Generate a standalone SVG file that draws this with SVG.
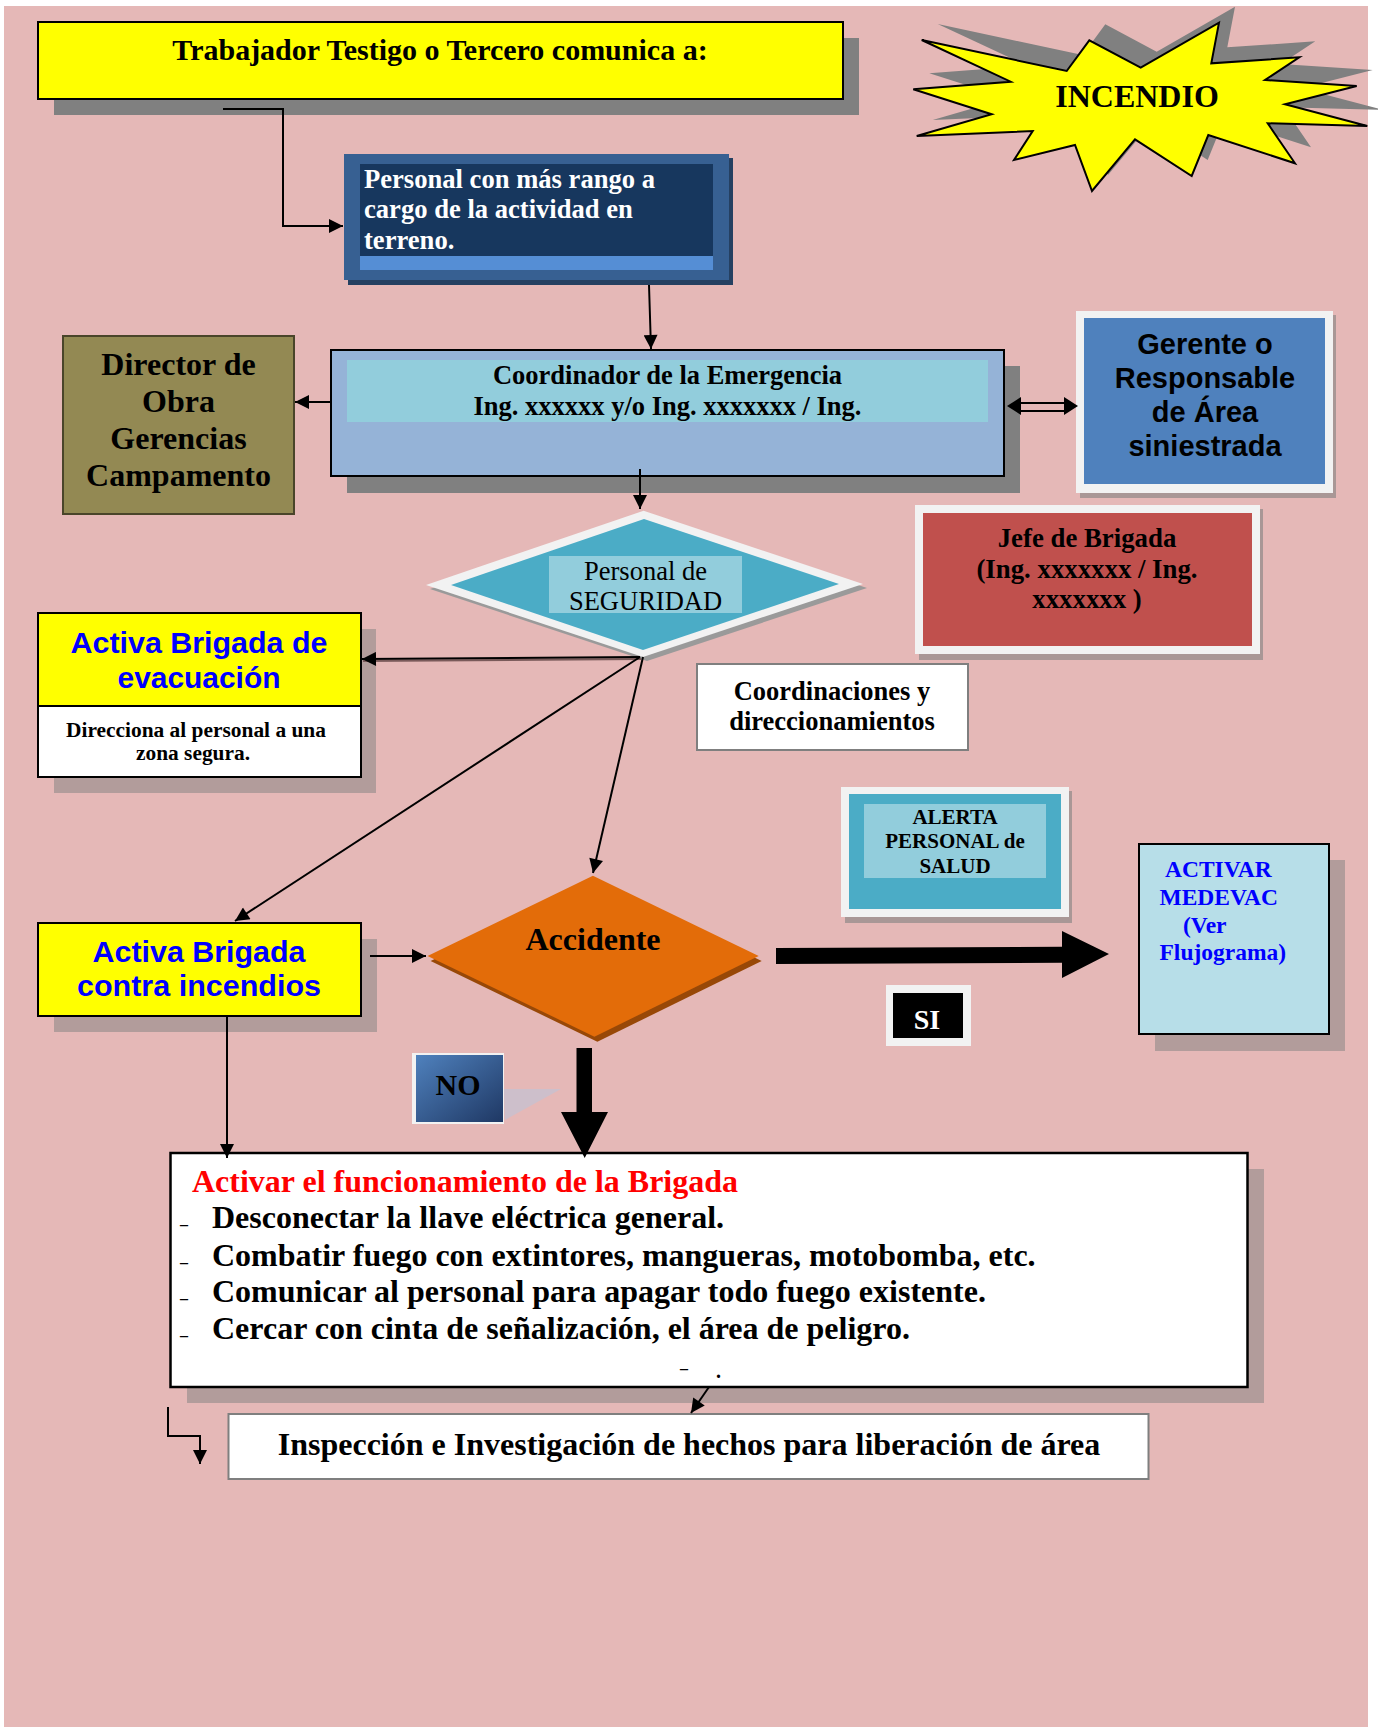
<svg xmlns="http://www.w3.org/2000/svg" width="1378" height="1727" viewBox="0 0 1378 1727">
<defs>
<style>
.serif{font-family:"Liberation Serif","Times New Roman",serif;font-weight:bold}
.sans{font-family:"Liberation Sans",Arial,sans-serif;font-weight:bold}
.blue{fill:#0000FF}
.c{text-anchor:middle}
.ln{fill:none;stroke:#000;stroke-width:2}
.sh{fill:#808080}
.shs{fill:#808080;opacity:.5}
</style>
<marker id="ah" viewBox="0 0 10 10" refX="10" refY="5" markerWidth="15" markerHeight="14" markerUnits="userSpaceOnUse" orient="auto"><path d="M0,0 L10,5 L0,10 z" fill="#000"/></marker>
<linearGradient id="nog" x1="0" y1="0" x2="1" y2="1"><stop offset="0" stop-color="#4F81BD"/><stop offset="1" stop-color="#1F3864"/></linearGradient>
</defs>
<rect x="4" y="6" width="1364" height="1721" fill="#E5B8B7"/>

<g id="titulo">
<rect x="54" y="38" width="805" height="77" class="sh"/>
<rect x="38" y="22" width="805" height="77" fill="#FFFF00" stroke="#000" stroke-width="2"/>
<text x="440" y="60" class="serif c" font-size="30">Trabajador Testigo o Tercero comunica a:</text>
</g>

<g id="incendio">
<polygon transform="translate(16,-16)" class="sh" points="921.7,40 1066.7,71 1089.3,40.3 1140.7,67.7 1219,22.7 1211.3,63.3 1299.3,57.3 1265,80 1356.7,86 1285,104.3 1367.3,126 1267.7,123.3 1295,163.3 1208.3,135 1191.7,176 1135,139.3 1092,191 1075,145 1014,160 1032.7,131 916.7,136 991.7,114.3 913.3,89.3 1010.7,81.7"/>
<polygon fill="#FFFF00" stroke="#000" stroke-width="2" points="921.7,40 1066.7,71 1089.3,40.3 1140.7,67.7 1219,22.7 1211.3,63.3 1299.3,57.3 1265,80 1356.7,86 1285,104.3 1367.3,126 1267.7,123.3 1295,163.3 1208.3,135 1191.7,176 1135,139.3 1092,191 1075,145 1014,160 1032.7,131 916.7,136 991.7,114.3 913.3,89.3 1010.7,81.7"/>
<text x="1137" y="107" class="serif c" font-size="32">INCENDIO</text>
</g>

<g id="personal-rango">
<rect x="348" y="158" width="385" height="127" fill="#254061"/>
<rect x="344" y="154" width="385" height="126" fill="#376092"/>
<rect x="360" y="164" width="353" height="92" fill="#17375E"/>
<rect x="360" y="256" width="353" height="14" fill="#558ED5"/>
<text class="serif" font-size="26.6" fill="#FFFFFF"><tspan x="364" y="188">Personal con más rango a</tspan><tspan x="364" y="218">cargo de la actividad en</tspan><tspan x="364" y="249">terreno.</tspan></text>
</g>

<g id="director">
<rect x="63" y="336" width="231" height="178" fill="#938953" stroke="#4A452A" stroke-width="2"/>
<text class="serif c" font-size="32"><tspan x="178.5" y="375">Director de</tspan><tspan x="178.5" y="412">Obra</tspan><tspan x="178.5" y="449">Gerencias</tspan><tspan x="178.5" y="486">Campamento</tspan></text>
</g>

<g id="coordinador">
<rect x="347" y="366" width="673" height="127" class="sh"/>
<rect x="331" y="350" width="673" height="126" fill="#95B3D7" stroke="#000" stroke-width="2"/>
<rect x="347" y="360" width="641" height="62" fill="#92CDDC"/>
<text class="serif c" font-size="26.5"><tspan x="667.5" y="384">Coordinador de la Emergencia</tspan><tspan x="667.5" y="415">Ing. xxxxxx y/o Ing. xxxxxxx / Ing.</tspan></text>
</g>

<g id="gerente">
<rect x="1080" y="315" width="256" height="183" class="sh" opacity=".6"/>
<rect x="1076" y="311" width="257" height="182" fill="#F2F2F2"/>
<rect x="1084" y="318" width="241" height="166" fill="#4F81BD"/>
<text class="sans c" font-size="29"><tspan x="1205" y="354">Gerente o</tspan><tspan x="1205" y="388">Responsable</tspan><tspan x="1205" y="422">de Área</tspan><tspan x="1205" y="456">siniestrada</tspan></text>
</g>

<g id="jefe-brigada">
<rect x="919" y="509" width="344" height="151" class="sh" opacity=".6"/>
<rect x="915" y="505" width="345" height="149" fill="#F2F2F2"/>
<rect x="923" y="513" width="329" height="133" fill="#C0504D"/>
<text class="serif c" font-size="26.8"><tspan x="1087" y="547">Jefe de Brigada</tspan><tspan x="1087" y="578">(Ing. xxxxxxx / Ing.</tspan><tspan x="1087" y="608">xxxxxxx )</tspan></text>
</g>

<g id="seguridad">
<polygon transform="translate(4,4)" fill="#9A9A9A" points="643.6,510.7 863,584 643,657 426,585"/>
<polygon fill="#F2F2F2" points="643.6,510.7 863,584 643,657 426,585"/>
<polygon fill="#4BACC6" points="644,519 839,584 643,650 451,585"/>
<rect x="549" y="556" width="193" height="57" fill="#92CDDC"/>
<text font-family="Liberation Serif, Times New Roman, serif" font-size="26.5" class="c"><tspan x="645.5" y="580">Personal de</tspan><tspan x="645.5" y="610">SEGURIDAD</tspan></text>
</g>

<g id="evacuacion">
<rect x="54" y="629" width="322" height="164" class="shs"/>
<rect x="38" y="613" width="323" height="93" fill="#FFFF00" stroke="#000" stroke-width="2"/>
<rect x="38" y="706" width="323" height="71" fill="#FFFFFF" stroke="#000" stroke-width="2"/>
<text class="sans c blue" font-size="29"><tspan x="199" y="653" textLength="257" lengthAdjust="spacingAndGlyphs">Activa Brigada de</tspan><tspan x="199" y="688" textLength="163" lengthAdjust="spacingAndGlyphs">evacuación</tspan></text>
<text class="serif c" font-size="21.4"><tspan x="196" y="737">Direcciona al personal a una</tspan><tspan x="193" y="760">zona segura.</tspan></text>
</g>

<g id="coordinaciones">
<rect x="697" y="664" width="271" height="86" fill="#FFFFFF" stroke="#7F7F7F" stroke-width="2"/>
<text class="serif c" font-size="26.5"><tspan x="832" y="700">Coordinaciones y</tspan><tspan x="832" y="730">direccionamientos</tspan></text>
</g>

<g id="alerta">
<rect x="845" y="791" width="227" height="132" class="sh" opacity=".6"/>
<rect x="841" y="787" width="228" height="130" fill="#F2F2F2"/>
<rect x="849" y="794" width="212" height="115" fill="#4BACC6"/>
<rect x="864" y="804" width="182" height="74" fill="#92CDDC"/>
<text class="serif c" font-size="21"><tspan x="955" y="824">ALERTA</tspan><tspan x="955" y="848">PERSONAL de</tspan><tspan x="955" y="873">SALUD</tspan></text>
</g>

<g id="medevac">
<rect x="1155" y="860" width="190" height="191" class="shs"/>
<rect x="1139" y="844" width="190" height="190" fill="#B7DEE8" stroke="#000" stroke-width="2"/>
<text class="serif blue" font-size="23.5"><tspan x="1165" y="877">ACTIVAR</tspan><tspan x="1159.5" y="905">MEDEVAC</tspan><tspan x="1183" y="933">(Ver</tspan><tspan x="1159.5" y="960">Flujograma)</tspan></text>
</g>

<g id="brigada-incendios">
<rect x="54" y="939" width="323" height="93" class="shs"/>
<rect x="38" y="923" width="323" height="93" fill="#FFFF00" stroke="#000" stroke-width="2"/>
<text class="sans c blue" font-size="29"><tspan x="199" y="962" textLength="213" lengthAdjust="spacingAndGlyphs">Activa Brigada</tspan><tspan x="199" y="996" textLength="244" lengthAdjust="spacingAndGlyphs">contra incendios</tspan></text>
</g>

<g id="accidente">
<polygon transform="translate(3,5)" fill="#984807" points="592.9,875.7 758.7,956 594.4,1036.7 427.6,956"/>
<polygon fill="#E36C09" points="592.9,875.7 758.7,956 594.4,1036.7 427.6,956"/>
<text x="593" y="950" class="serif c" font-size="32">Accidente</text>
</g>

<g id="si">
<rect x="886" y="985" width="85" height="61" fill="#F2F2F2"/>
<rect x="893" y="993" width="70" height="45" fill="#000"/>
<text x="927" y="1029" class="serif c" font-size="28" fill="#FFFFFF">SI</text>
</g>

<g id="no">
<polygon points="504,1089 561,1089 505,1120" fill="#CDBFCB"/>
<rect x="412" y="1053" width="92" height="71" fill="#F2F2F2"/>
<rect x="416" y="1055" width="87" height="67" fill="url(#nog)"/>
<text x="458" y="1095" class="serif c" font-size="30">NO</text>
</g>

<g id="activar-brigada">
<rect x="187" y="1169" width="1077" height="234" class="shs"/>
<rect x="170.5" y="1153" width="1077" height="234" fill="#FFFFFF" stroke="#000" stroke-width="2.5"/>
<text x="192" y="1192" class="serif" font-size="32" fill="#FF0000">Activar el funcionamiento de la Brigada</text>
<g class="serif" font-size="16"><text x="180" y="1230">–</text><text x="180" y="1268">–</text><text x="180" y="1304">–</text><text x="180" y="1341">–</text></g>
<text class="serif" font-size="32"><tspan x="212" y="1228">Desconectar la llave eléctrica general.</tspan><tspan x="212" y="1266">Combatir fuego con extintores, mangueras, motobomba, etc.</tspan><tspan x="212" y="1302">Comunicar al personal para apagar todo fuego existente.</tspan><tspan x="212" y="1339">Cercar con cinta de señalización, el área de peligro.</tspan></text>
<text x="680" y="1374" class="serif" font-size="16">–</text>
<text x="716" y="1378" class="serif" font-size="20">.</text>
</g>

<g id="inspeccion">
<rect x="228.5" y="1414" width="920" height="65" fill="#FFFFFF" stroke="#7F7F7F" stroke-width="2"/>
<text x="689" y="1455" class="serif c" font-size="32">Inspección e Investigación de hechos para liberación de área</text>
</g>

<g id="connectors">
<path class="ln" d="M223,109 H283 V226 H343" marker-end="url(#ah)"/>
<path class="ln" d="M649,285 L651,349" marker-end="url(#ah)"/>
<path class="ln" d="M331,402 L295,402" marker-end="url(#ah)"/>
<g id="doble-flecha">
<rect x="1019" y="403" width="47" height="8" fill="none" stroke="#000" stroke-width="2"/>
<polygon points="1007,406 1021,397 1021,415" fill="#000"/>
<polygon points="1078,406 1064,397 1064,415" fill="#000"/>
</g>
<path class="ln" d="M640,469 L640,509" marker-end="url(#ah)"/>
<path d="M641,659 L363,661" fill="none" stroke="#7A5A5A" stroke-width="2"/>
<path class="ln" d="M640,657 L362,659" marker-end="url(#ah)"/>
<path class="ln" d="M640,657 L235,921" marker-end="url(#ah)"/>
<path class="ln" d="M643,657 L593,873" marker-end="url(#ah)"/>
<path class="ln" d="M370,956 L426,956" marker-end="url(#ah)"/>
<path class="ln" d="M227,1016 L227,1158" marker-end="url(#ah)"/>
<polygon points="576.5,1048 592,1048 592,1112 608,1112 584.7,1158 561,1112 576.5,1112" fill="#000"/>
<polygon points="776,948 1062,946.7 1062,931 1109,954 1062,978 1062,962.7 776,964" fill="#000"/>
<path class="ln" d="M709,1387 L691,1413" marker-end="url(#ah)"/>
<path class="ln" d="M168,1407 V1436 H200 V1464" marker-end="url(#ah)"/>
</g>
</svg>
